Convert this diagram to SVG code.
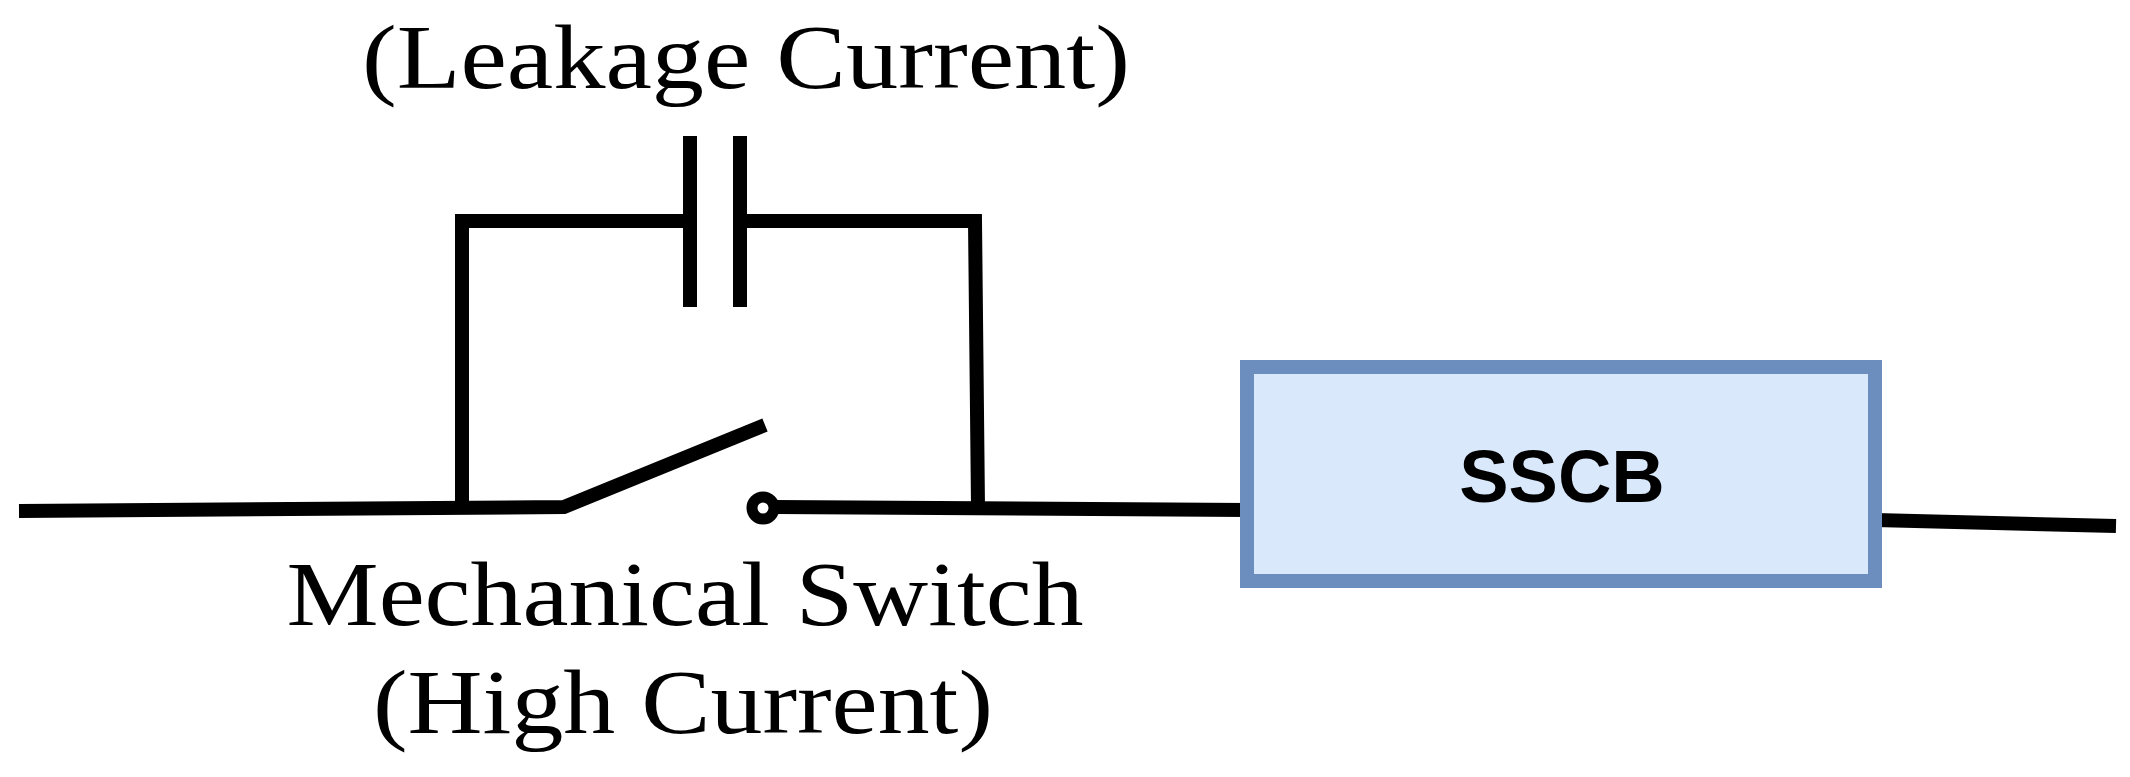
<svg xmlns="http://www.w3.org/2000/svg" width="2130" height="777" viewBox="0 0 2130 777">
<style>
.w{fill:none;stroke:#000;stroke-width:14;stroke-linecap:butt;stroke-linejoin:miter}
.t{font-family:"Liberation Serif",serif;font-size:92px;text-anchor:middle;fill:#000}
</style>
<rect width="2130" height="777" fill="#fff"/>
<g id="connectors">
<path class="w" d="M19 511 L564 507 L765 425"/>
<path class="w" d="M462 507 L462 221 L690 221"/>
<path class="w" d="M740 221 L975 221 L978 507"/>
<path class="w" d="M775 507 L1247 510"/>
<path class="w" d="M1875 520 L2116 526"/>
</g>
<g id="capacitor">
<path class="w" d="M690 136 V307 M740 136 V307"/>
</g>
<g id="contact">
<circle cx="763" cy="508" r="11" fill="#fff" stroke="#000" stroke-width="11"/>
</g>
<g id="sscb">
<rect x="1247" y="367" width="628" height="214" fill="#dae8fc" stroke="#6c8ebf" stroke-width="14"/>
<text x="1562" y="502" font-family="Liberation Sans,Arial,sans-serif" font-weight="bold" font-size="74" text-anchor="middle">SSCB</text>
</g>
<g id="labels">
<text class="t" x="746" y="88" textLength="768" lengthAdjust="spacingAndGlyphs">(Leakage Current)</text>
<text class="t" x="685" y="625" textLength="797" lengthAdjust="spacingAndGlyphs">Mechanical Switch</text>
<text class="t" x="683" y="733" textLength="620" lengthAdjust="spacingAndGlyphs">(High Current)</text>
</g>
</svg>
